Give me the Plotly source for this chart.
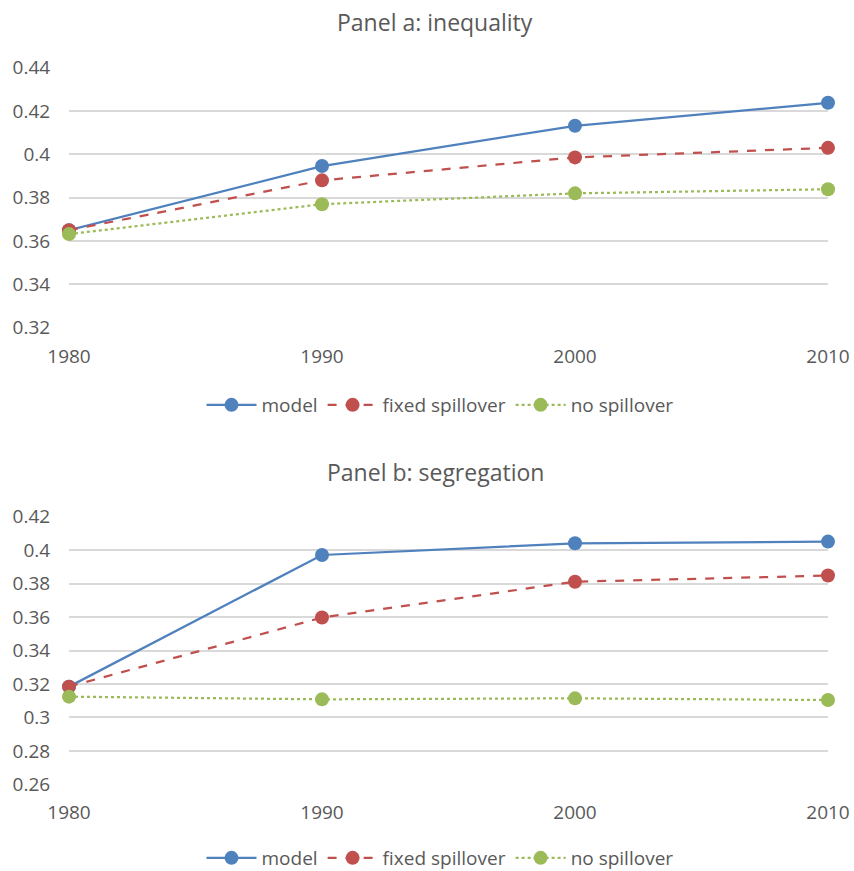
import plotly.graph_objects as go

years = [1980, 1990, 2000, 2010]

ineq_model = [0.365, 0.3946, 0.4132, 0.4238]
ineq_fixed = [0.365, 0.388, 0.3986, 0.403]
ineq_none = [0.3632, 0.377, 0.382, 0.3839]

seg_model = [0.3184, 0.3971, 0.4041, 0.4051]
seg_fixed = [0.3184, 0.3597, 0.3811, 0.3848]
seg_none = [0.3124, 0.3108, 0.3114, 0.3104]

series_names = ["model", "fixed spillover", "no spillover"]
panel_titles = ["Panel a: inequality", "Panel b: segregation"]

colors = ["#4F81BD", "#C0504D", "#9BBB59"]
dashes = ["solid", "dash", "dot"]
FONT = "Open Sans"
TXT = "#595959"
GRID = "#D9D9D9"

W, H = 854, 871
L = 69
R = W - 828

def py(px):
    return 1 - px / H

def px_x(px):
    return (px - L) / (W - L - R)

fig = go.Figure()

panels = [
    (ineq_model, ineq_fixed, ineq_none, "x", "y", "legend"),
    (seg_model, seg_fixed, seg_none, "x2", "y2", "legend2"),
]
for vals_m, vals_f, vals_n, xa, ya, lg in panels:
    for name, vals, c, d in zip(series_names, [vals_m, vals_f, vals_n], colors, dashes):
        fig.add_trace(go.Scatter(
            x=years, y=vals, name=name, mode="lines+markers",
            line=dict(color=c, width=2.25, dash=d),
            marker=dict(color=c, size=14, symbol="circle"),
            xaxis=xa, yaxis=ya, legend=lg, cliponaxis=False,
        ))

xcommon = dict(
    range=[1980, 2010], tickmode="array", tickvals=years, ticktext=[str(y) for y in years],
    showgrid=False, zeroline=False, showline=False,
    ticks="outside", ticklen=11, tickcolor="rgba(0,0,0,0)",
    tickfont=dict(family=FONT, size=19, color=TXT), automargin=False,
    ticklabeloverflow="allow",
)
ycommon = dict(
    showgrid=True, gridcolor=GRID, gridwidth=1.5, zeroline=False, showline=False,
    ticks="outside", ticklen=14, tickcolor="rgba(0,0,0,0)",
    tickfont=dict(family=FONT, size=19, color=TXT), automargin=False,
    tickformat="~g",
)

legend_common = dict(orientation="h", xanchor="center", yanchor="middle",
                     font=dict(family=FONT, size=19, color=TXT), itemwidth=50,
                     bgcolor="rgba(0,0,0,0)")

fig.update_layout(
    width=W, height=H,
    margin=dict(l=L, r=R, t=0, b=0, autoexpand=False),
    paper_bgcolor="white", plot_bgcolor="white",
    font=dict(family=FONT, color=TXT),
    xaxis=dict(domain=[0, 1], anchor="y", **xcommon),
    yaxis=dict(domain=[py(327.7), py(67.7)], anchor="x", range=[0.32, 0.44], dtick=0.02, tick0=0.32, **ycommon),
    xaxis2=dict(domain=[0, 1], anchor="y2", **xcommon),
    yaxis2=dict(domain=[py(784.3), py(516.7)], anchor="x2", range=[0.26, 0.42], dtick=0.02, tick0=0.26, **ycommon),
    legend=dict(x=px_x(440), y=py(405), **legend_common),
    legend2=dict(x=px_x(440), y=py(858), **legend_common),
    showlegend=True,
    annotations=[
        dict(text=panel_titles[0], x=px_x(435), y=py(22), xref="paper", yref="paper",
             xanchor="center", yanchor="middle", showarrow=False,
             font=dict(family=FONT, size=23, color=TXT)),
        dict(text=panel_titles[1], x=px_x(435), y=py(472), xref="paper", yref="paper",
             xanchor="center", yanchor="middle", showarrow=False,
             font=dict(family=FONT, size=23, color=TXT)),
    ],
)

fig.write_html("out.html", config={"displayModeBar": False},
               post_script="document.body.style.margin='0';document.body.style.overflow='hidden';")
